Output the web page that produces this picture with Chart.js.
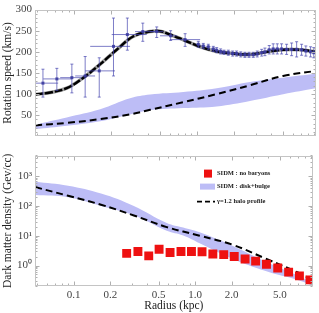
<!DOCTYPE html>
<html><head><meta charset="utf-8">
<script src="https://cdn.jsdelivr.net/npm/chart.js@4"></script>
<style>
html,body{margin:0;padding:0;background:#fff;width:319px;height:313px;overflow:hidden}
#w1{position:absolute;left:0;top:0;width:319px;height:146px}
#w2{position:absolute;left:0;top:146px;width:319px;height:167px}
</style></head><body>
<div id="w1"><canvas id="c1" width="319" height="146"></canvas></div>
<div id="w2"><canvas id="c2" width="319" height="167"></canvas></div>
<script>
// ---------- Top panel: rotation curve ----------
const fitR   = [0.048,0.064,0.087,0.119,0.163,0.222,0.304,0.415,0.50,0.604,0.774,1.06,1.445,1.97,2.70,3.69,5.02,6.86,9.3];
const fitV   = [99,104,114,139,171,205,237,248,249,241,228.5,212,201,196,194,200,205,205,200];
const dashR  = [0.048,0.087,0.163,0.285,0.415,0.774,1.445,2.70,5.02,9.3];
const dashV  = [26,32,41,52,63,81,100,121,143,155];
const bandR  = [0.048,0.087,0.163,0.285,0.415,0.774,1.445,2.70,5.02,9.3];
const bandLo = [17,25,36,52,62,67,71,84,100,114];
const bandHi = [28,45,64,90,99,105,114,129,139,148];
// observed points with error bars
const obsR   = [0.0557,0.0723,0.0958,0.1229,0.160,0.209,0.271,0.362,0.47,0.61,0.80,
                1.025,1.125,1.236,1.357,1.445,1.557,1.658,1.798,1.95,2.10,2.27,2.455,2.65,2.87,3.09,3.36,3.57,3.87,4.17,4.50,4.88,5.36,5.89,6.47,7.10,7.69,8.40,8.92];
const obsV   = [126,136,139,143,155,213,241,248,248,238,229,
                218,214,212,207,204,201,199,198,196,196,194,193,193,193,195,198,200,205,207,207,207,206,206,206,205,202,200,198];
const obsRlo = [0.048,0.056,0.077,0.102,0.123,0.135,0.202,0.313,0.415,0.50,0.60,
                0.98,1.075,1.18,1.30,1.40,1.50,1.60,1.73,1.87,2.02,2.18,2.36,2.55,2.76,2.97,3.23,3.45,3.72,4.01,4.33,4.69,5.15,5.66,6.22,6.83,7.40,8.08,8.58];
const obsRhi = [0.0741,0.0963,0.116,0.148,0.215,0.285,0.390,0.47,0.53,0.69,1.06,
                1.07,1.17,1.29,1.41,1.50,1.62,1.72,1.87,2.03,2.18,2.36,2.55,2.76,2.98,3.21,3.49,3.71,4.02,4.33,4.68,5.07,5.57,6.12,6.72,7.38,7.99,8.73,9.27];
const obsVlo = [93,109,103,93,93,143,204,225,234,227,213,
                211,208,206,201,198,195,194,192,190,190,188,187,187,187,188,190,191,195,195,195,195,194,191,188,192,190,188,186];
const obsVhi = [159,161,171,189,186,280,280,268,259,250,243,
                225,220,218,213,210,207,204,204,202,202,200,199,199,199,202,206,209,215,219,219,219,218,221,224,218,214,212,210];
const topTicks = [50,100,150,200,250,300];

// ---------- Bottom panel: density ----------
const sidmR   = [0.273,0.338,0.415,0.505,0.622,0.765,0.933,1.14,1.40,1.72,2.10,2.58,3.15,3.87,4.79,5.89,7.23,8.83];
const sidmRho = [2.55,2.94,2.10,3.52,2.74,2.94,2.94,2.88,2.42,2.32,2.01,1.65,1.40,1.10,0.82,0.60,0.45,0.33];
const dBandR  = [0.048,0.0899,0.168,0.313,0.584,0.798,1.09,2.03,3.81,7.09,9.3];
const dBandLo = [232,195,100,48.7,14.7,10.2,5.6,1.69,0.65,0.32,0.21];
const dBandHi = [649,477,261,100,26.8,18.7,13,4.6,1.33,0.45,0.26];
const haloR   = [0.048,0.0899,0.168,0.313,0.584,1.09,2.03,3.81,7.09,9.3];
const haloRho = [430,220,110,48,19.5,10,5.0,1.7,0.57,0.32];
const botTicks = [1,10,100,1000];
const botTickLabels = ['10\u2070','10\u00b9','10\u00b2','10\u00b3'];
const xTicks = [0.1,0.2,0.5,1,2,5];
const xTickLabels = ['0.1','0.2','0.5','1.0','2.0','5.0'];
const legendLabels = ['SIDM : no baryons','SIDM : disk+bulge','\u03b3=1.2 halo profile'];

const XMIN=0.048, XMAX=9.3;
const SERIF = "'Liberation Serif','Times New Roman',serif";
const pts = (xs,ys)=>xs.map((x,i)=>({x:x,y:ys[i]}));
const BAND = '#bdbdf6';

function frameTicks(chart, yMajor, yMinor, xMajor, xMinor){
  const ctx=chart.ctx, a=chart.chartArea, xs=chart.scales.x, ys=chart.scales.y;
  ctx.save();
  ctx.strokeStyle='#b0b0b0'; ctx.lineWidth=1;
  const L=Math.round(a.left)+0.5, R=Math.round(a.right)-0.5, T=Math.round(a.top)+0.5, B=Math.round(a.bottom)-0.5;
  ctx.beginPath();
  const seg=(x1,y1,x2,y2)=>{ctx.moveTo(x1,y1);ctx.lineTo(x2,y2);};
  yMajor.forEach(v=>{const y=Math.round(ys.getPixelForValue(v))+0.5; if(y<T-1||y>B+1)return; seg(L,y,L+4,y); seg(R,y,R-4,y);});
  yMinor.forEach(v=>{const y=Math.round(ys.getPixelForValue(v))+0.5; if(y<T-1||y>B+1)return; seg(L,y,L+2,y); seg(R,y,R-2,y);});
  xMajor.forEach(v=>{const x=Math.round(xs.getPixelForValue(v))+0.5; if(x<L||x>R)return; seg(x,B,x,B-4); seg(x,T,x,T+4);});
  xMinor.forEach(v=>{const x=Math.round(xs.getPixelForValue(v))+0.5; if(x<L||x>R)return; seg(x,B,x,B-2); seg(x,T,x,T+2);});
  ctx.stroke();
  ctx.strokeStyle='#c4c4c4';
  ctx.strokeRect(L,T,R-L,B-T);
  ctx.restore();
}
const xMinorVals=[0.05,0.06,0.07,0.08,0.09,0.3,0.4,0.6,0.7,0.8,0.9,3,4,6,7,8,9];

const errPlugin={
  id:'errbars',
  afterDatasetsDraw(chart){
    const ctx=chart.ctx, xs=chart.scales.x, ys=chart.scales.y;
    ctx.save();
    ctx.strokeStyle='rgba(70,70,175,0.7)'; ctx.lineWidth=1;
    ctx.beginPath();
    for(let i=0;i<obsR.length;i++){
      const x=xs.getPixelForValue(obsR[i]), y=ys.getPixelForValue(obsV[i]);
      const x1=xs.getPixelForValue(obsRlo[i]), x2=xs.getPixelForValue(obsRhi[i]);
      const y1=ys.getPixelForValue(obsVlo[i]), y2=ys.getPixelForValue(obsVhi[i]);
      ctx.moveTo(x1,y);ctx.lineTo(x2,y);
      ctx.moveTo(x,y1);ctx.lineTo(x,y2);
      ctx.moveTo(x-1.5,y1);ctx.lineTo(x+1.5,y1);
      ctx.moveTo(x-1.5,y2);ctx.lineTo(x+1.5,y2);
    }
    ctx.stroke();
    ctx.fillStyle='rgba(60,60,160,0.9)';
    for(let i=0;i<obsR.length;i++){
      const x=xs.getPixelForValue(obsR[i]), y=ys.getPixelForValue(obsV[i]);
      ctx.fillRect(x-1.5,y-1.5,3,3);
    }
    ctx.restore();
  }
};
const frame1={id:'frame1',afterDraw(c){
  const minor=[];for(let v=10;v<300;v+=10) if(v%50) minor.push(v);
  frameTicks(c,topTicks,minor,xTicks,xMinorVals);
}};
const frame2={id:'frame2',afterDraw(c){
  const minor=[];[0.1,1,10,100,1000].forEach(d=>{for(let k=2;k<10;k++)minor.push(d*k);});
  frameTicks(c,botTicks,minor,xTicks,xMinorVals);
}};
const legendPlugin={id:'leg',afterDraw(c){
  const ctx=c.ctx, a=c.chartArea;
  ctx.save();
  ctx.font="bold 6.5px "+SERIF; ctx.fillStyle='#222'; ctx.textBaseline='middle'; ctx.textAlign='left';
  const x0=a.left;
  ctx.fillStyle='#ee1111'; ctx.fillRect(x0+169,a.top+14,8,8);
  ctx.fillStyle='#222'; ctx.fillText(legendLabels[0],x0+182,a.top+18);
  ctx.fillStyle=BAND; ctx.fillRect(x0+165,a.top+28,15,6);
  ctx.fillStyle='#222'; ctx.fillText(legendLabels[1],x0+182,a.top+31);
  ctx.strokeStyle='#000'; ctx.lineWidth=1.8; ctx.setLineDash([5,3]);
  ctx.beginPath(); ctx.moveTo(x0+162,a.top+46); ctx.lineTo(x0+180,a.top+46); ctx.stroke();
  ctx.setLineDash([]);
  ctx.fillText(legendLabels[2],x0+182,a.top+46);
  ctx.restore();
}};

const yTitleFont={family:SERIF,size:11.5};
const tickFont={family:SERIF,size:11};

new Chart(document.getElementById('c1'),{
  type:'scatter',
  data:{datasets:[
    {data:pts(bandR,bandLo),order:4,showLine:true,pointRadius:0,borderWidth:0,borderColor:'rgba(0,0,0,0)',tension:0.4,fill:false},
    {data:pts(bandR,bandHi),order:3,showLine:true,pointRadius:0,borderWidth:0,borderColor:'rgba(0,0,0,0)',tension:0.4,fill:'-1',backgroundColor:BAND},
    {data:pts(dashR,dashV),order:2,showLine:true,pointRadius:0,borderWidth:2,borderColor:'#000',borderDash:[7,4],tension:0.4},
    {data:pts(fitR,fitV),order:1,showLine:true,pointRadius:0,borderWidth:3.5,borderColor:'#9a9a9a',tension:0.4},
    {data:pts(fitR,fitV),order:0,showLine:true,pointRadius:0,borderWidth:2.5,borderColor:'#000',borderDash:[8,2],tension:0.4}
  ]},
  options:{
    responsive:false,animation:false,devicePixelRatio:1,
    layout:{padding:{top:5,right:3,left:0,bottom:0}},
    plugins:{legend:{display:false},tooltip:{enabled:false}},
    scales:{
      x:{type:'logarithmic',min:XMIN,max:XMAX,
        grid:{display:false},border:{display:false},
        ticks:{display:false},
        afterFit(s){s.height=1;}},
      y:{type:'linear',min:0,max:300,
        grid:{display:false,drawTicks:false},border:{display:false},
        afterBuildTicks(s){s.ticks=topTicks.map(v=>({value:v}));},
        ticks:{font:tickFont,color:'#444',padding:3,callback:v=>String(v)},
        title:{display:true,text:'Rotation speed (km/s)',font:yTitleFont,color:'#222',padding:{top:1,bottom:0}},
        afterFit(s){s.width=35;}}
    }
  },
  plugins:[errPlugin,frame1]
});

new Chart(document.getElementById('c2'),{
  type:'scatter',
  data:{datasets:[
    {data:pts(dBandR,dBandLo),order:4,showLine:true,pointRadius:0,borderWidth:0,borderColor:'rgba(0,0,0,0)',tension:0.4,fill:false},
    {data:pts(dBandR,dBandHi),order:3,showLine:true,pointRadius:0,borderWidth:0,borderColor:'rgba(0,0,0,0)',tension:0.4,fill:'-1',backgroundColor:BAND},
    {data:pts(haloR,haloRho),order:1,showLine:true,pointRadius:0,borderWidth:2,borderColor:'#000',borderDash:[7,4],tension:0.4},
    {data:pts(sidmR,sidmRho),order:0,showLine:false,pointStyle:'rect',pointRadius:6.3,backgroundColor:'#ee1111',borderWidth:0}
  ]},
  options:{
    responsive:false,animation:false,devicePixelRatio:1,
    layout:{padding:{top:0,right:3,left:0,bottom:0}},
    plugins:{legend:{display:false},tooltip:{enabled:false}},
    scales:{
      x:{type:'logarithmic',min:XMIN,max:XMAX,
        grid:{display:false,drawTicks:false},border:{display:false},
        afterBuildTicks(s){s.ticks=xTicks.map(v=>({value:v}));},
        ticks:{font:tickFont,color:'#444',padding:3,maxRotation:0,autoSkip:false,
          callback:(v,i)=>xTickLabels[i]},
        title:{display:true,text:'Radius (kpc)',font:yTitleFont,color:'#222',padding:{top:0,bottom:0}},
        afterFit(s){s.height=27;}},
      y:{type:'logarithmic',min:0.205,max:4900,
        grid:{display:false,drawTicks:false},border:{display:false},
        afterBuildTicks(s){s.ticks=botTicks.map(v=>({value:v}));},
        ticks:{font:tickFont,color:'#444',padding:3,callback:(v,i)=>botTickLabels[i]},
        title:{display:true,text:'Dark matter density (Gev/cc)',font:yTitleFont,color:'#222',padding:{top:1,bottom:0}},
        afterFit(s){s.width=35;}}
    }
  },
  plugins:[frame2,legendPlugin]
});
</script>
</body></html>
